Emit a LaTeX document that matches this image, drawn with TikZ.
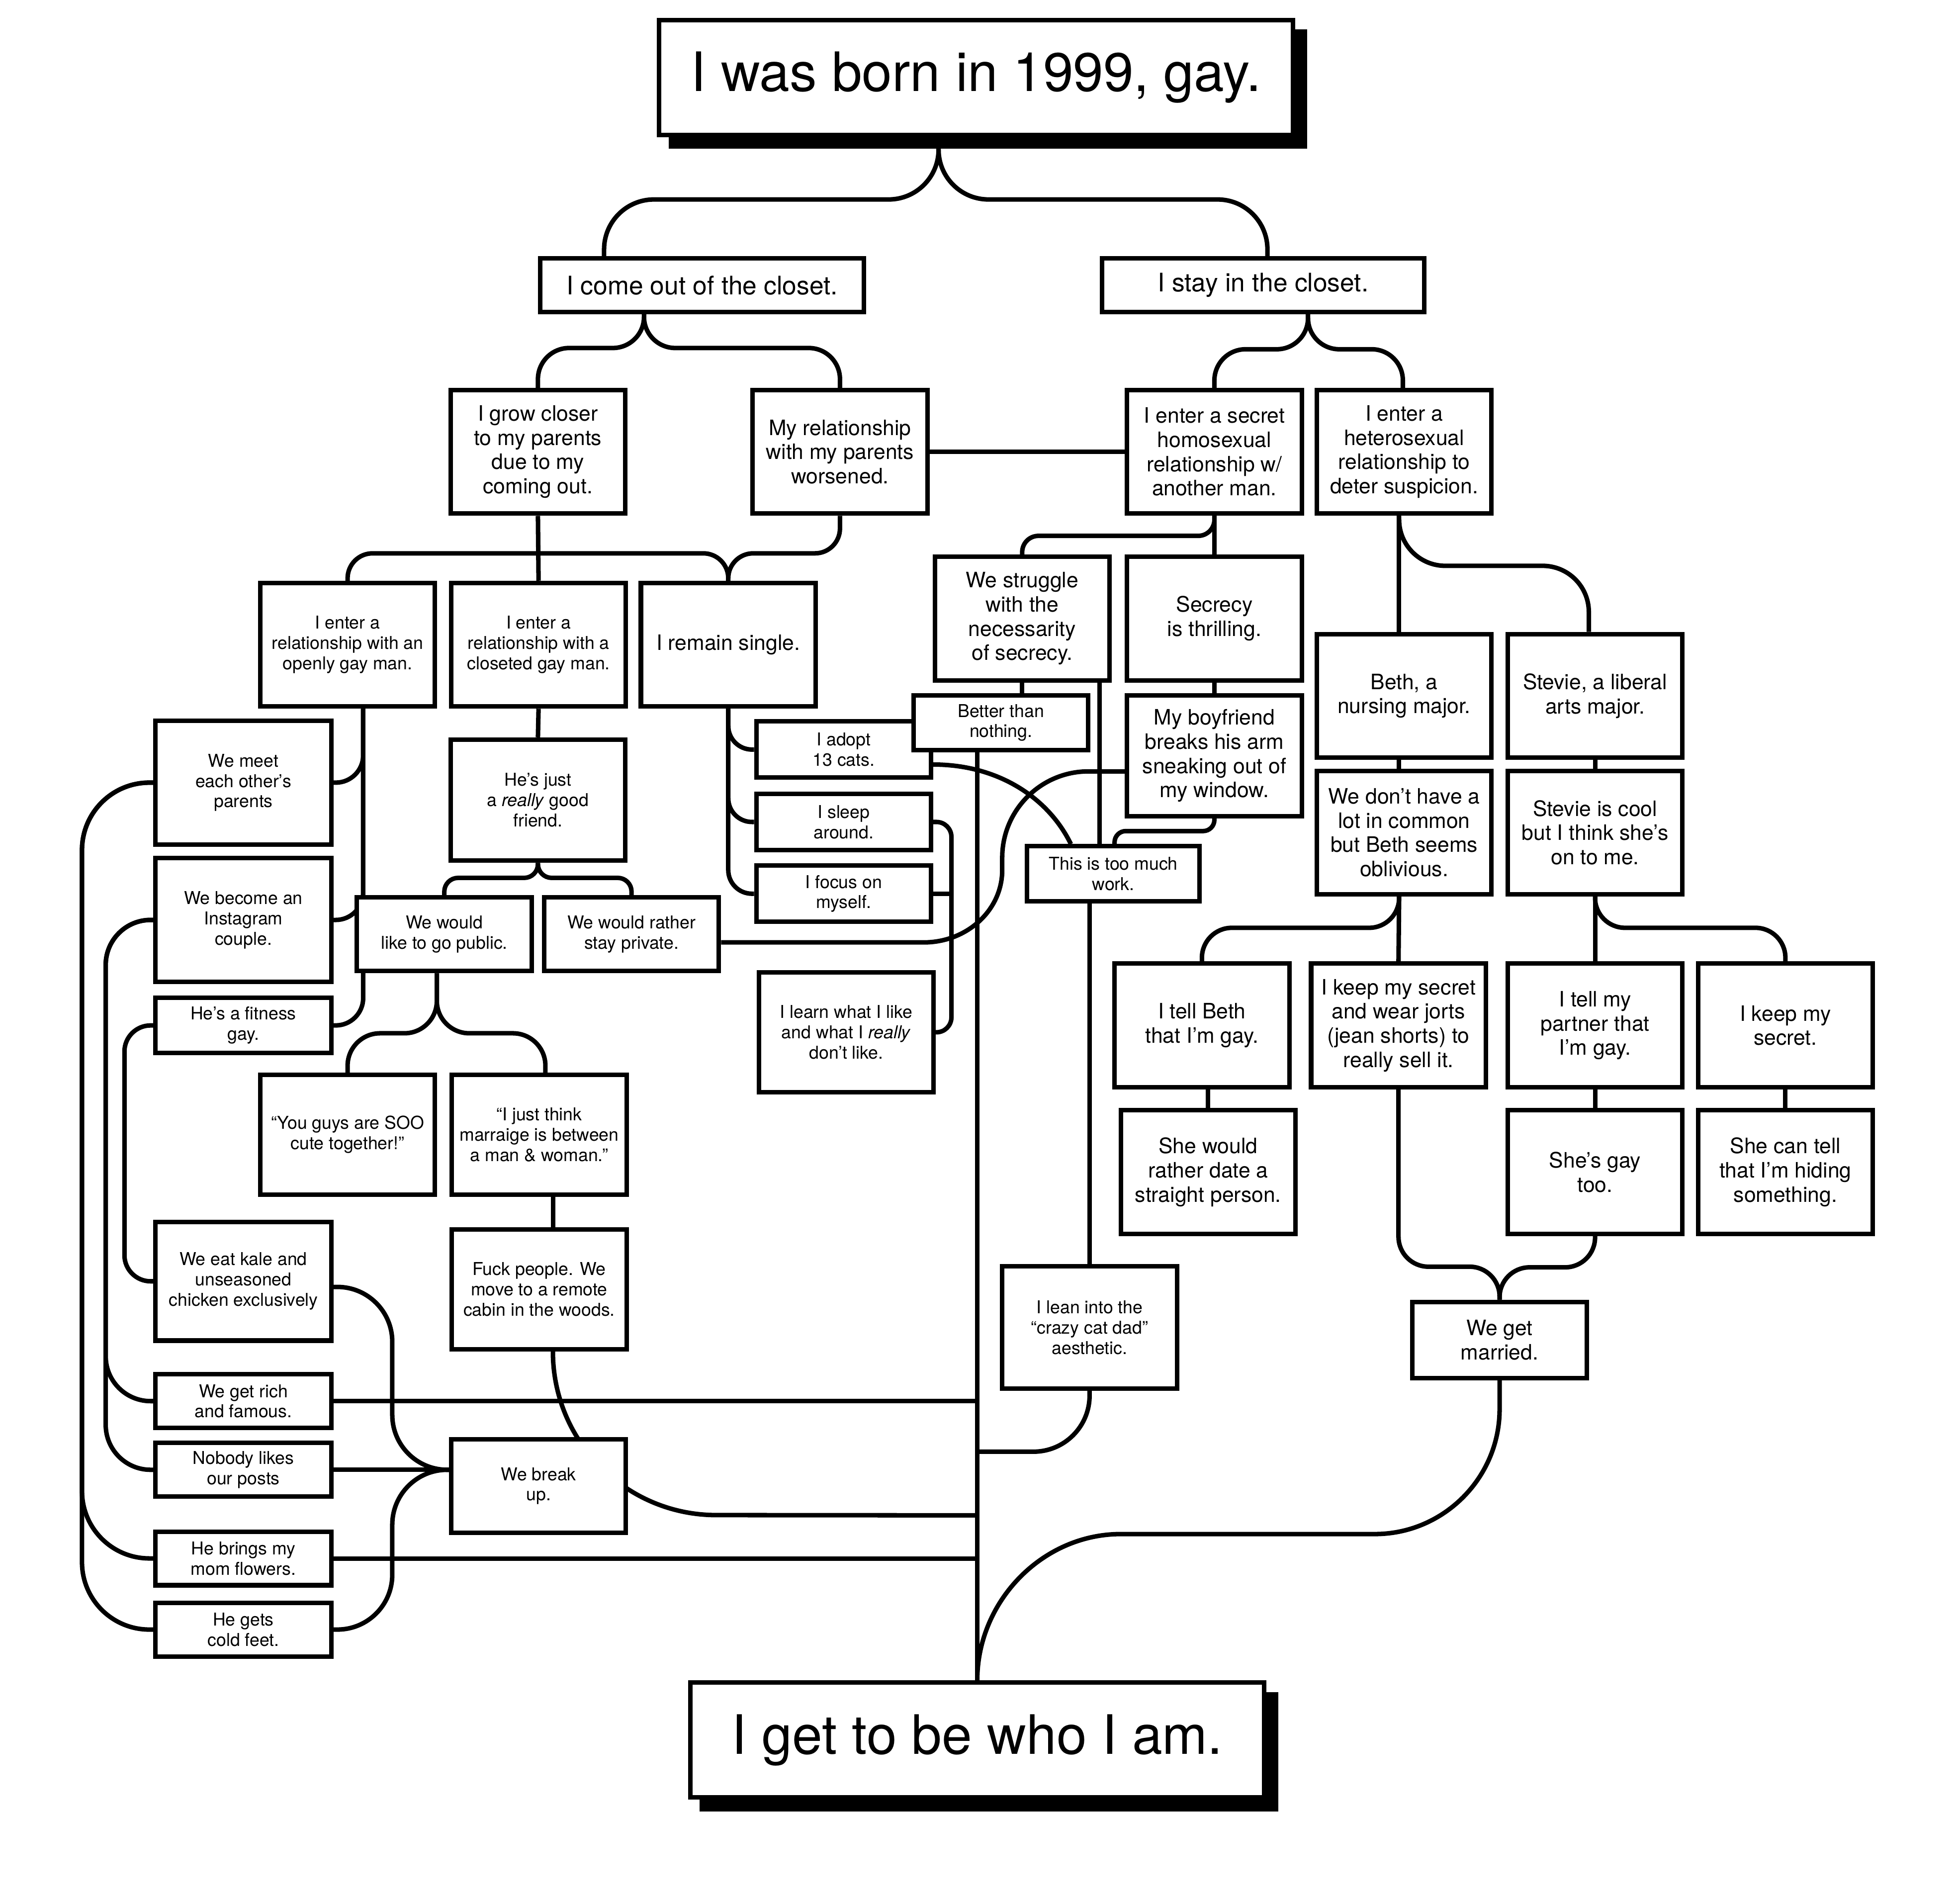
\documentclass[tikz,border=0pt]{standalone}
\usepackage{fontspec}
\setmainfont{TeX Gyre Heros}
\usetikzlibrary{calc}
\pgfdeclarelayer{background}
\pgfsetlayers{background,main}
\begin{document}
\begin{tikzpicture}[x=1pt,y=-1pt,
  box/.style={draw, line width=3.6pt, fill=white, inner sep=0pt, align=center, minimum width=140pt, minimum height=99pt},
  sm/.style={font=\fontsize{14.2}{16.3}\selectfont},
  md/.style={font=\fontsize{17}{19.4}\selectfont},
  lg/.style={font=\fontsize{20.5}{24}\selectfont},
  xl/.style={font=\fontsize{43.5}{50}\selectfont},
  conn/.style={line width=3.6pt}]
\useasboundingbox (0,0) rectangle (1568,1525);
% ---------- nodes ----------
\node[box,xl,minimum width=508pt,minimum height=92pt] (title) at (782,62) {I was born in 1999, gay.};
\node[box,xl,minimum width=460pt,minimum height=92pt] (final) at (783,1394) {I get to be who I am.};
\node[box,lg,minimum width=259pt,minimum height=43pt] (come) at (562.5,228.5) {I come out of the closet.};
\node[box,lg,minimum width=258pt,minimum height=43pt] (stay) at (1012,228.5) {I stay in the closet.};
\node[box,md] (closer) at (431,362) {I grow closer\\to my parents\\due to my\\coming out.};
\node[box,md] (worse) at (673,362) {My relationship\\with my parents\\worsened.};
\node[box,md] (secret) at (973,362) {I enter a secret\\homosexual\\relationship w/\\another man.};
\node[box,md] (hetero) at (1125,362) {I enter a\\heterosexual\\relationship to\\deter suspicion.};
\node[box,sm] (openly) at (278.5,516.5) {I enter a\\relationship with an\\openly gay man.};
\node[box,sm] (closeted) at (431.5,516.5) {I enter a\\relationship with a\\closeted gay man.};
\node[box,md] (single) at (583.5,516.5) {I remain single.};
\node[box,md] (struggle) at (819,495.5) {We struggle\\with the\\necessarity\\of secrecy.};
\node[box,md] (thrill) at (973,495.5) {Secrecy\\is thrilling.};
\node[box,md] (beth) at (1125,557.5) {Beth, a\\nursing major.};
\node[box,md] (stevie) at (1278,557.5) {Stevie, a liberal\\arts major.};
\node[box,md] (notmuch) at (1125,667) {We don’t have a\\lot in common\\but Beth seems\\oblivious.};
\node[box,md] (cool) at (1278,667) {Stevie is cool\\but I think she’s\\on to me.};
\node[box,md] (tellbeth) at (963,821.5) {I tell Beth\\that I’m gay.};
\node[box,md] (jorts) at (1120.5,821.5) {I keep my secret\\and wear jorts\\(jean shorts) to\\really sell it.};
\node[box,md] (partner) at (1278,821.5) {I tell my\\partner that\\I’m gay.};
\node[box,md] (keep) at (1430.5,821.5) {I keep my\\secret.};
\node[box,md] (straight) at (968,939) {She would\\rather date a\\straight person.};
\node[box,md] (gaytoo) at (1278,939) {She’s gay\\too.};
\node[box,md] (hiding) at (1430.5,939) {She can tell\\that I’m hiding\\something.};
\node[box,md,minimum height=61pt] (married) at (1201.5,1073.5) {We get\\married.};
\node[box,sm,minimum height=45pt] (adopt) at (676,600.5) {I adopt\\13 cats.};
\node[box,sm,minimum height=44pt] (better) at (802,579) {Better than\\nothing.};
\node[box,sm,minimum height=45pt] (sleep) at (676,658.5) {I sleep\\around.};
\node[box,sm,minimum height=45pt] (focus) at (676,716) {I focus on\\myself.};
\node[box,sm,minimum height=96pt] (learn) at (678,827) {I learn what I like\\and what I \textit{really}\\don’t like.};
\node[box,md,minimum height=97pt] (boyfriend) at (973,605.5) {My boyfriend\\breaks his arm\\sneaking out of\\my window.};
\node[box,sm,minimum width=138pt,minimum height=44pt] (toomuch) at (892,700) {This is too much\\work.};
\node[box,sm,minimum height=98pt] (catdad) at (873,1063.5) {I lean into the\\“crazy cat dad”\\aesthetic.};
\node[box,sm,minimum width=141pt] (meet) at (195,627) {We meet\\each other’s\\parents};
\node[box,sm,minimum width=141pt] (insta) at (195,737) {We become an\\Instagram\\couple.};
\node[box,sm,minimum width=141pt,minimum height=44pt] (fitness) at (195,821.5) {He’s a fitness\\gay.};
\node[box,sm,minimum width=141pt,minimum height=95pt] (kale) at (195,1026.5) {We eat kale and\\unseasoned\\chicken exclusively};
\node[box,sm,minimum width=141pt,minimum height=43pt] (rich) at (195,1122.5) {We get rich\\and famous.};
\node[box,sm,minimum width=141pt,minimum height=43pt] (nobody) at (195,1177.5) {Nobody likes\\our posts};
\node[box,sm,minimum width=141pt,minimum height=43pt] (flowers) at (195,1248.5) {He brings my\\mom flowers.};
\node[box,sm,minimum width=141pt,minimum height=43pt] (cold) at (195,1305.5) {He gets\\cold feet.};
\node[box,sm,minimum height=97pt] (friend) at (431,641) {He’s just\\a \textit{really} good\\friend.};
\node[box,sm,minimum height=59pt] (public) at (356,748.5) {We would\\like to go public.};
\node[box,sm,minimum height=59pt] (private) at (506,748.5) {We would rather\\stay private.};
\node[box,sm,minimum height=96pt] (cute) at (278.5,909) {“You guys are SOO\\cute together!”};
\node[box,sm,minimum height=96pt] (marriage) at (432,909) {“I just think\\marraige is between\\a man \& woman.”};
\node[box,sm,minimum height=96pt] (fuck) at (432,1033) {Fuck people. We\\move to a remote\\cabin in the woods.};
\node[box,sm,minimum height=75pt] (breakup) at (431.5,1190.5) {We break\\up.};
% ---------- helper coordinates ----------
\coordinate (tsplit) at ([xshift=-30pt]title.south);
\coordinate (cin) at ([xshift=-78.5pt]come.north);
\coordinate (sin) at ([xshift=3.5pt]stay.north);
\coordinate (cout) at ([xshift=-46.5pt]come.south);
\coordinate (sout) at ([xshift=36pt]stay.south);
\coordinate (hin) at ([xshift=-1pt]hetero.north);
\coordinate (hout) at ([xshift=-4pt]hetero.south);
\coordinate (bin) at ([xshift=-4pt]beth.north);
\coordinate (bout) at ([xshift=-4pt]beth.south);
\coordinate (nin) at ([xshift=-4pt]notmuch.north);
\coordinate (nout) at ([xshift=-4pt]notmuch.south);
\coordinate (stin) at ([xshift=-5pt]stevie.north);
\coordinate (tbout) at ([xshift=5pt]tellbeth.south);
\coordinate (sx) at ([xshift=62pt]struggle.south);
\coordinate (oout) at ([xshift=12.5pt]openly.south);
\coordinate (pout) at ([xshift=-6pt]public.south);
\coordinate (min) at ([xshift=5pt]marriage.north);
\coordinate (mout) at ([xshift=11pt]marriage.south);
\coordinate (fin) at ([xshift=11pt]fuck.north);
\coordinate (fout) at ([xshift=11pt]fuck.south);
\coordinate (kout) at ([yshift=-4.5pt]kale.east);
\coordinate (aout) at ([yshift=-12pt]adopt.east);
\coordinate (tmin) at ([xshift=-34pt]toomuch.north);
\coordinate (tmin2) at ([xshift=1pt]toomuch.north);
\coordinate (bfout) at ([yshift=-12.5pt]boyfriend.west);
\coordinate (s1) at (872,618);
\coordinate (s2) at (803,687);
\coordinate (s3) at (803,697);
\coordinate (s4) at (740,755);
\coordinate (jcat) at (783,1163);
\coordinate (jbreak) at (783,1214);
\coordinate (m1) at (1201.5,1129);
\coordinate (m2) at (1101.5,1229);
\coordinate (m3) at (898,1229);
% ---------- connectors ----------
\begin{pgfonlayer}{background}
\fill[white] (0,0) rectangle (1568,1525);
\draw[conn,rounded corners=40] (tsplit) -- ++(0,50) -| (cin);
\draw[conn,rounded corners=40] (tsplit) -- ++(0,50) -| (sin);
\draw[conn,rounded corners=25] (cout) -- ++(0,27) -| (closer.north);
\draw[conn,rounded corners=25] (cout) -- ++(0,27) -| (worse.north);
\draw[conn,rounded corners=25] (sout) -- ++(0,28) -| (secret.north);
\draw[conn,rounded corners=25] (sout) -- ++(0,28) -| (hin);
\draw[conn] (worse.east) -- (secret.west);
\draw[conn] (closer.south) -- (closeted.north);
\draw[conn,rounded corners=20] (closer.south) ++(0,30) -| (openly.north);
\draw[conn,rounded corners=20] (closer.south) ++(0,30) -| (single.north);
\draw[conn,rounded corners=20] (worse.south) -- ++(0,30) -| (single.north);
\draw[conn] (secret.south) -- (thrill.north);
\draw[conn,rounded corners=13] (secret.south) -- ++(0,16) -| (struggle.north);
\draw[conn] (hout) -- (bin);
\draw[conn,rounded corners=37] (hout) -- ++(0,40) -| (stin);
\draw[conn] (bout) -- (nin);
\draw[conn] (stevie.south) -- (cool.north);
\draw[conn] (nout) -- (jorts.north);
\draw[conn,rounded corners=24] (nout) -- ++(0,25) -| (tellbeth.north);
\draw[conn] (cool.south) -- (partner.north);
\draw[conn,rounded corners=24] (cool.south) -- ++(0,25) -| (keep.north);
\draw[conn] (tbout) -- (straight.north);
\draw[conn] (partner.south) -- (gaytoo.north);
\draw[conn] (keep.south) -- (hiding.north);
\draw[conn,rounded corners=24] (jorts.south) -- ++(0,142) -| (married.north);
\draw[conn,rounded corners=24] (gaytoo.south) -- ++(0,25) -| (married.north);
\draw[conn] (married.south) -- (m1) .. controls (1201.5,1184) and (1156.5,1229) .. (m2) -- (m3) .. controls (835,1229) and (783,1283) .. (final.north);
\draw[conn] (better.south -| final.north) -- (final.north);
\draw[conn] (rich.east) -- (rich.east -| final.north);
\draw[conn] (flowers.east) -- (flowers.east -| final.north);
\draw[conn,rounded corners=45] (catdad.south) |- (jcat);
\draw[conn] (toomuch.south -| catdad.north) -- (catdad.north);
\draw[conn] (fout) arc[start angle=180,end angle=270,radius=131pt] -- (jbreak);
\draw[conn] (mout) -- (fin);
\draw[conn] (nobody.east) -- (nobody.east -| breakup.west);
\draw[conn,rounded corners=44] (kout) -- ++(47,0) |- (nobody.east -| breakup.west);
\draw[conn,rounded corners=44] (cold.east) -- ++(47,0) |- (nobody.east -| breakup.west);
\draw[conn,rounded corners=26] (pout) -- ++(0,48) -| (cute.north);
\draw[conn,rounded corners=26] (pout) -- ++(0,48) -| (min);
\draw[conn] (closeted.south) -- (friend.north);
\draw[conn,rounded corners=11] (friend.south) -- ++(0,12) -| (public.north);
\draw[conn,rounded corners=11] (friend.south) -- ++(0,12) -| (private.north);
\draw[conn,rounded corners=22] (oout) |- (meet.east);
\draw[conn,rounded corners=22] (oout) |- (insta.east);
\draw[conn,rounded corners=22] (oout) |- (fitness.east);
\draw[conn,rounded corners=54] (meet.west) -- ++(-57,0) |- (cold.west);
\draw[conn,rounded corners=54] (meet.west) -- ++(-57,0) |- (flowers.west);
\draw[conn,rounded corners=36] (insta.west) -- ++(-38,0) |- (rich.west);
\draw[conn,rounded corners=36] (insta.west) -- ++(-38,0) |- (nobody.west);
\draw[conn,rounded corners=21] (fitness.west) -- ++(-23,0) |- (kale.west);
\draw[conn,rounded corners=19] (single.south) |- (adopt.west);
\draw[conn,rounded corners=19] (single.south) |- (sleep.west);
\draw[conn,rounded corners=19] (single.south) |- (focus.west);
\draw[conn,rounded corners=12] (sleep.east) -- ++(14.5,0) |- (learn.east);
\draw[conn] (focus.east) -- ++(14.5,0);
\draw[conn] (aout) .. controls +(52,0) and +(-18,-37) .. (tmin);
\draw[conn] (struggle.south) -- (struggle.south |- better.north);
\draw[conn] (sx) -- (sx |- toomuch.north);
\draw[conn] (thrill.south) -- (boyfriend.north);
\draw[conn,rounded corners=9] (boyfriend.south) -- ++(0,10) -| (tmin2);
\draw[conn] (bfout) -- (s1) .. controls +(-38,0) and +(0,-38) .. (s2) -- (s3) .. controls +(0,32) and +(35,0) .. (s4) -- (s4 -| private.east);
% shadows
\fill ([xshift=9.5pt,yshift=-9.5pt]title.south west) rectangle ([xshift=9.5pt,yshift=-9.5pt]title.north east);
\fill ([xshift=9.5pt,yshift=-9.5pt]final.south west) rectangle ([xshift=9.5pt,yshift=-9.5pt]final.north east);
\end{pgfonlayer}
\end{tikzpicture}
\end{document}
